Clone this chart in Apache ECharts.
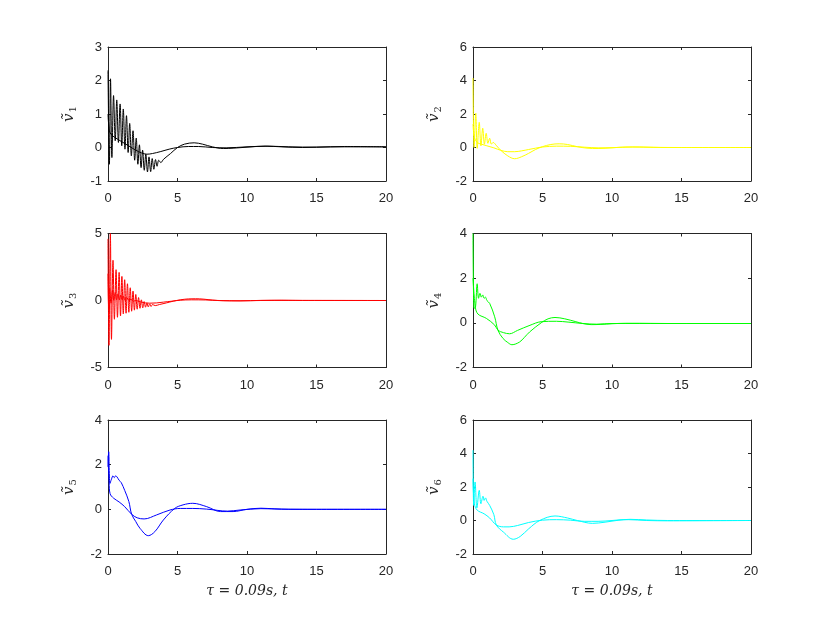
<!DOCTYPE html>
<html lang="en">
<head>
<meta charset="UTF-8" />
<title>v tilde responses</title>
<script src="https://cdn.jsdelivr.net/npm/echarts@6.0.0/dist/echarts.min.js"></script>
<style>
  html, body { margin: 0; padding: 0; background: #fff; }
  #box { width: 830px; height: 623px; }
</style>
</head>
<body>
<div id="box"></div>
<script>
// values, [t, v] pairs
var v1_a = [[0,2.3],[0.1,-0.5],[0.18,2.05],[0.28,-0.3],[0.4,1.55],[0.52,0.2],[0.63,1.42],[0.75,0.15],[0.87,1.3],[0.99,0.05],
  [1.1,1.15],[1.22,-0.05],[1.33,0.95],[1.45,-0.15],[1.56,0.72],[1.68,-0.25],[1.8,0.5],[1.92,-0.38],[2.03,0.28],[2.15,-0.5],
  [2.26,0.08],[2.38,-0.6],[2.49,-0.08],[2.61,-0.68],[2.72,-0.2],[2.84,-0.73],[2.95,-0.28],[3.07,-0.72],[3.18,-0.33],[3.3,-0.65],
  [3.42,-0.36],[3.53,-0.56],[3.65,-0.38],[3.8,-0.45],[4.0,-0.35],[4.5,-0.18],[5.0,0.0],[5.5,0.1],[6.2,0.14],[6.8,0.1],
  [7.5,0.02],[8.3,-0.03],[9.0,-0.02],[10,0.01],[11.3,0.04],[12.5,0.02],[14,0.0],[16,0.02],[18,0.02],[20,0.02]];
var v1_b = [[0,1.0],[0.1,0.5],[0.25,0.38],[0.5,0.3],[0.8,0.22],[1.2,0.12],[1.6,0.02],[2.0,-0.08],[2.4,-0.16],[2.8,-0.2],
  [3.2,-0.18],[3.8,-0.12],[4.4,-0.05],[5.0,0.0],[5.8,0.03],[6.5,0.03],[7.5,0.0],[8.5,-0.01],[10,0.02],[11.5,0.04],
  [13,0.02],[15,0.01],[17,0.03],[20,0.02]];

var v2_a = [[0,4.15],[0.08,0.0],[0.2,2.05],[0.3,-0.05],[0.45,1.5],[0.57,0.1],[0.7,1.15],[0.82,0.2],[0.95,0.85],[1.07,0.25],
  [1.2,0.55],[1.32,0.2],[1.45,0.3],[1.7,0.1],[2.0,-0.17],[2.5,-0.5],[3.0,-0.67],[3.5,-0.55],[4.0,-0.35],[4.5,-0.12],
  [5.0,0.05],[5.6,0.18],[6.2,0.22],[6.8,0.18],[7.5,0.05],[8.2,-0.04],[9.0,-0.06],[10,-0.02],[11,0.03],[12,0.03],
  [13.5,0.0],[15,0.0],[20,0.0]];
var v2_b = [[0,1.4],[0.1,0.6],[0.3,0.3],[0.6,0.2],[1.0,0.1],[1.5,-0.02],[2.0,-0.17],[2.5,-0.25],[3.0,-0.25],[3.5,-0.2],
  [4.0,-0.12],[4.5,-0.04],[5.0,0.03],[6.0,0.08],[7.0,0.07],[8.0,0.02],[9.0,-0.02],[10,-0.01],[11.5,0.03],[13,0.01],
  [15,0.0],[20,0.0]];

var v3_a = [[0,4.6],[0.07,-3.35],[0.17,5.0],[0.25,-2.9],[0.36,3.0],[0.46,-1.4],[0.58,2.3],[0.68,-1.25],[0.8,2.1],[0.9,-1.15],
  [1.0,1.8],[1.1,-1.0],[1.2,1.55],[1.3,-0.95],[1.4,1.25],[1.5,-0.88],[1.6,0.95],[1.7,-0.8],[1.8,0.7],[1.9,-0.72],
  [2.0,0.45],[2.1,-0.65],[2.2,0.22],[2.3,-0.58],[2.4,0.05],[2.5,-0.55],[2.6,-0.08],[2.7,-0.5],[2.8,-0.18],[2.9,-0.48],
  [3.0,-0.25],[3.1,-0.45],[3.2,-0.3],[3.4,-0.38],[3.7,-0.3],[4.2,-0.18],[4.7,-0.05],[5.2,0.05],[5.8,0.12],[6.3,0.13],
  [6.9,0.1],[7.5,0.03],[8.3,-0.02],[9.5,-0.03],[11,0.01],[12.5,0.02],[14,0.0],[20,0.0]];
var v3_b = [[0,2.0],[0.05,-0.5],[0.12,0.9],[0.22,-0.2],[0.32,0.75],[0.42,0.0],[0.52,0.6],[0.62,0.05],[0.72,0.5],[0.82,0.05],
  [0.92,0.4],[1.02,0.05],[1.12,0.32],[1.22,0.02],[1.35,0.22],[1.5,0.0],[1.65,0.1],[1.8,-0.05],[2.0,0.0],[2.3,-0.1],
  [2.7,-0.18],[3.0,-0.2],[3.5,-0.18],[4.0,-0.12],[4.6,-0.05],[5.2,0.02],[6.0,0.05],[7.0,0.04],[8.0,0.0],[9.5,-0.02],
  [11,0.0],[13,0.01],[20,0.0]];

var v4_a = [[0,4.0],[0.08,0.65],[0.18,0.7],[0.3,1.75],[0.4,1.1],[0.5,1.32],[0.6,1.15],[0.7,1.25],[0.8,1.1],[0.9,1.15],
  [1.0,1.0],[1.2,0.87],[1.56,0.27],[1.8,-0.34],[2.16,-0.7],[2.5,-0.88],[2.8,-0.98],[3.35,-0.86],[3.7,-0.65],[4.07,-0.41],
  [4.9,0.0],[5.4,0.18],[5.9,0.24],[6.6,0.18],[7.4,0.05],[7.9,-0.03],[8.5,-0.08],[9.2,-0.07],[10,-0.04],[11,-0.02],
  [12,-0.02],[14,-0.03],[20,-0.03]];
var v4_b = [[0,2.0],[0.17,0.7],[0.36,0.39],[0.96,0.2],[1.56,-0.1],[1.8,-0.33],[2.2,-0.44],[2.63,-0.49],[3.2,-0.34],[4.1,-0.11],
  [4.9,0.05],[6.0,0.07],[6.9,0.03],[7.9,-0.03],[8.9,-0.06],[10,-0.03],[12,-0.03],[15,-0.03],[20,-0.03]];

var v5_a = [[0,1.9],[0.05,2.58],[0.14,1.16],[0.25,1.35],[0.36,1.5],[0.45,1.42],[0.55,1.5],[0.65,1.45],[0.8,1.3],[0.95,1.2],
  [1.2,0.85],[1.5,0.35],[1.7,-0.22],[2.0,-0.55],[2.3,-0.85],[2.9,-1.18],[3.37,-1.0],[3.98,-0.48],[4.8,0.04],[5.4,0.2],
  [6.1,0.27],[7.1,0.12],[8.1,-0.1],[9.0,-0.1],[10,0.0],[11,0.05],[12,0.02],[13,0.0],[15,0.0],[20,0.0]];
var v5_b = [[0,2.4],[0.08,1.2],[0.15,0.7],[0.4,0.5],[0.8,0.33],[1.2,0.12],[1.7,-0.22],[2.1,-0.38],[2.6,-0.43],[3.5,-0.25],
  [4.46,-0.03],[5.2,0.04],[6.1,0.04],[7.1,0.01],[8.6,-0.08],[9.5,-0.03],[11,0.03],[12.5,0.01],[15,0.0],[20,0.0]];

var v6_a = [[0,4.2],[0.05,0.9],[0.15,2.3],[0.28,0.75],[0.45,1.8],[0.57,1.0],[0.72,1.45],[0.8,1.2],[0.9,1.35],[1.0,1.15],
  [1.2,0.9],[1.5,0.35],[1.68,-0.27],[2.2,-0.7],[2.9,-1.12],[3.4,-0.95],[4.0,-0.5],[4.8,0.0],[5.9,0.27],[6.8,0.15],
  [7.5,0.0],[8.6,-0.17],[9.5,-0.1],[10.5,0.02],[11.2,0.05],[12.5,0.0],[14,-0.02],[20,0.0]];
var v6_b = [[0,2.5],[0.1,1.0],[0.3,0.62],[0.8,0.4],[1.2,0.15],[1.68,-0.27],[2.2,-0.38],[2.6,-0.38],[3.2,-0.3],[4.0,-0.12],
  [5.0,0.02],[6.0,0.05],[7.0,0.02],[8.0,-0.05],[9.0,-0.05],[10,0.0],[11.3,0.07],[12.5,0.03],[14,0.0],[20,0.0]];

var subs = ["1", "2", "3", "4", "5", "6"];
var colors = ["#000000", "#ffff00", "#ff0000", "#00ff00", "#0000ff", "#00ffff"];
var yMins = [-1, -2, -5, -2, -2, -2];
var yMaxs = [3, 6, 5, 4, 4, 6];
var ySteps = [1, 2, 5, 2, 2, 2];
var xName = "τ = 0.09s, t";
var lines = [[v1_a, v1_b], [v2_a, v2_b], [v3_a, v3_b], [v4_a, v4_b], [v5_a, v5_b], [v6_a, v6_b]];

var axisCol = "#262626";
var cols = [108, 473], rows = [47, 233.5, 420];

var grids = [], xAxes = [], yAxes = [], series = [];
for (var i = 0; i < 6; i++) {
  var c = i % 2, r = Math.floor(i / 2);
  grids.push({ left: cols[c], top: rows[r], width: 278, height: 134 });
  var tick = { show: true, inside: true, length: 3, lineStyle: { color: axisCol } };
  var line = { show: true, onZero: false, lineStyle: { color: axisCol, width: 1 } };
  xAxes.push({
    type: "value", gridIndex: i, position: "bottom", min: 0, max: 20, interval: 5,
    axisLine: line, axisTick: tick, splitLine: { show: false },
    axisLabel: { color: axisCol, fontFamily: "Liberation Sans", fontSize: 13, margin: 11 },
    name: r == 2 ? xName : "", nameLocation: "middle", nameGap: 30,
    nameTextStyle: { fontFamily: "DejaVu Serif", fontStyle: "italic", fontSize: 14, color: axisCol }
  });
  xAxes.push({
    type: "value", gridIndex: i, position: "top", min: 0, max: 20, interval: 5,
    axisLine: line, axisTick: tick, axisLabel: { show: false }, splitLine: { show: false }
  });
  yAxes.push({
    type: "value", gridIndex: i, position: "left", min: yMins[i], max: yMaxs[i], interval: ySteps[i],
    axisLine: line, axisTick: tick, splitLine: { show: false },
    axisLabel: { color: axisCol, fontFamily: "Liberation Sans", fontSize: 13, margin: 6 },
    name: "{v|ṽ}{s|" + subs[i] + "}", nameLocation: "middle", nameGap: 30,
    nameTextStyle: {
      color: axisCol,
      rich: {
        v: { fontFamily: "DejaVu Serif", fontStyle: "italic", fontSize: 15, color: axisCol },
        s: { fontFamily: "DejaVu Serif", fontSize: 10, color: axisCol, padding: [8, 0, 0, 1] }
      }
    }
  });
  yAxes.push({
    type: "value", gridIndex: i, position: "right", min: yMins[i], max: yMaxs[i], interval: ySteps[i],
    axisLine: line, axisTick: tick, axisLabel: { show: false }, splitLine: { show: false }
  });
  lines[i].forEach(function (d) {
    series.push({
      type: "line", xAxisIndex: 2 * i, yAxisIndex: 2 * i, data: d,
      showSymbol: false, symbol: "none", clip: true,
      smooth: 0.35,
      lineStyle: { color: colors[i], width: 1 }
    });
  });
}

var myChart = echarts.init(document.getElementById("box"));
myChart.setOption({
  animation: false,
  backgroundColor: "#ffffff",
  grid: grids,
  xAxis: xAxes,
  yAxis: yAxes,
  series: series
});
</script>
</body>
</html>
